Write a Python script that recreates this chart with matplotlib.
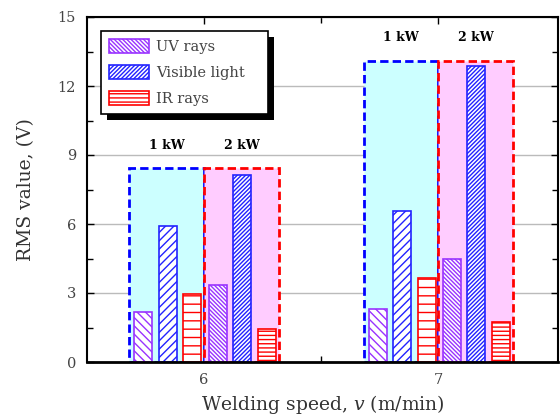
import matplotlib
matplotlib.use("Agg")
import matplotlib.pyplot as plt
from matplotlib.patches import Rectangle, Patch
import numpy as np

# ---- data ----
speeds = [6, 7]
powers = ["1 kW", "2 kW"]
series = ["UV rays", "Visible light", "IR rays"]
uv_1kw = [2.17, 2.30]
vis_1kw = [5.91, 6.57]
ir_1kw = [2.94, 3.67]
uv_2kw = [3.35, 4.48]
vis_2kw = [8.15, 12.86]
ir_2kw = [1.42, 1.73]
box_1kw = [8.43, 13.10]
box_2kw = [8.43, 13.10]
label_y = [9.4, 14.1]

plt.rcParams['font.family'] = ['DejaVu Serif']
plt.rcParams['mathtext.fontset'] = 'dejavuserif'
plt.rcParams['hatch.linewidth'] = 1.0

fig = plt.figure(figsize=(5.6, 4.16), dpi=100)
ax = fig.add_axes([87/560, 54/416, 471/560, 345/416])

colors = ['#9933FF', '#2222FF', '#FF0000']
hatch_1 = ['\\\\\\\\', '////', '--']
hatch_2 = ['\\\\\\\\\\\\\\\\', '////////', '----']
box_w = 0.32
bar_w = 0.077
offs = [-0.26, -0.155, -0.05]
offs2 = [0.058, 0.162, 0.267]

for i, x in enumerate(speeds):
    ax.add_patch(Rectangle((x - box_w, 0), box_w, box_1kw[i], facecolor='#CCFFFF',
                           edgecolor='#0000FF', linestyle=(0, (3, 1.5)), lw=2, zorder=1))
    ax.add_patch(Rectangle((x, 0), box_w, box_2kw[i], facecolor='#FFCCFF',
                           edgecolor='#FF0000', linestyle=(0, (3, 1.5)), lw=2, zorder=1))
    ax.text(x - box_w / 2, label_y[i], powers[0], ha='center', va='center',
            fontsize=9, fontweight='bold', color='black')
    ax.text(x + box_w / 2, label_y[i], powers[1], ha='center', va='center',
            fontsize=9, fontweight='bold', color='black')
    vals1 = [uv_1kw[i], vis_1kw[i], ir_1kw[i]]
    vals2 = [uv_2kw[i], vis_2kw[i], ir_2kw[i]]
    for k in range(3):
        ax.bar(x + offs[k], vals1[k], width=bar_w, facecolor='white',
               edgecolor=colors[k], hatch=hatch_1[k], lw=1.2, zorder=2)
        ax.bar(x + offs2[k], vals2[k], width=bar_w, facecolor='white',
               edgecolor=colors[k], hatch=hatch_2[k], lw=1.2, zorder=2)

ax.set_xlim(5.5, 7.51)
ax.set_ylim(0, 15)
ax.set_xticks([6, 7])
ax.set_xticks([6.5], minor=True)
ax.set_yticks([0, 3, 6, 9, 12, 15])
ax.set_yticks(np.arange(1.5, 15, 3), minor=True)
ax.yaxis.grid(True, color='#BBBBBB', lw=1, zorder=0)
ax.set_axisbelow(True)
ax.tick_params(which='both', direction='in', top=True, right=True, labelsize=10.5,
               labelcolor='#444444', width=1)
ax.tick_params(which='major', length=5, pad=8)
ax.tick_params(which='minor', length=4)
for s in ax.spines.values():
    s.set_linewidth(1.5)
ax.spines['bottom'].set_linewidth(2)

ax.set_xlabel(r"Welding speed, $\mathit{v}$ (m/min)", fontsize=13.5, color='#333333', labelpad=4)
ax.set_ylabel("RMS value, (V)", fontsize=13.5, color='#333333', labelpad=16)

handles = [Patch(facecolor='white', edgecolor=colors[k], hatch=hatch_2[k], lw=1.2)
           for k in range(3)]
leg = ax.legend(handles, series, loc='upper left', bbox_to_anchor=(0.03, 0.96, 0.355, 0.0),
                mode='expand', fancybox=False, framealpha=1, edgecolor='black',
                fontsize=10.5, handlelength=2.7, handleheight=1.1, labelspacing=0.75,
                handletextpad=0.5, borderpad=0.55, borderaxespad=0)
leg.get_frame().set_linewidth(1.2)
for t in leg.get_texts():
    t.set_color('#444444')
leg.set_zorder(6)

fig.canvas.draw()
bb = leg.get_window_extent()
shadow = Rectangle((bb.x0 + 6, bb.y0 - 6), bb.width, bb.height,
                   transform=None, facecolor='black', edgecolor='none',
                   zorder=5.5, clip_on=False)
ax.add_artist(shadow)
fig.savefig("out.png", dpi=100)
